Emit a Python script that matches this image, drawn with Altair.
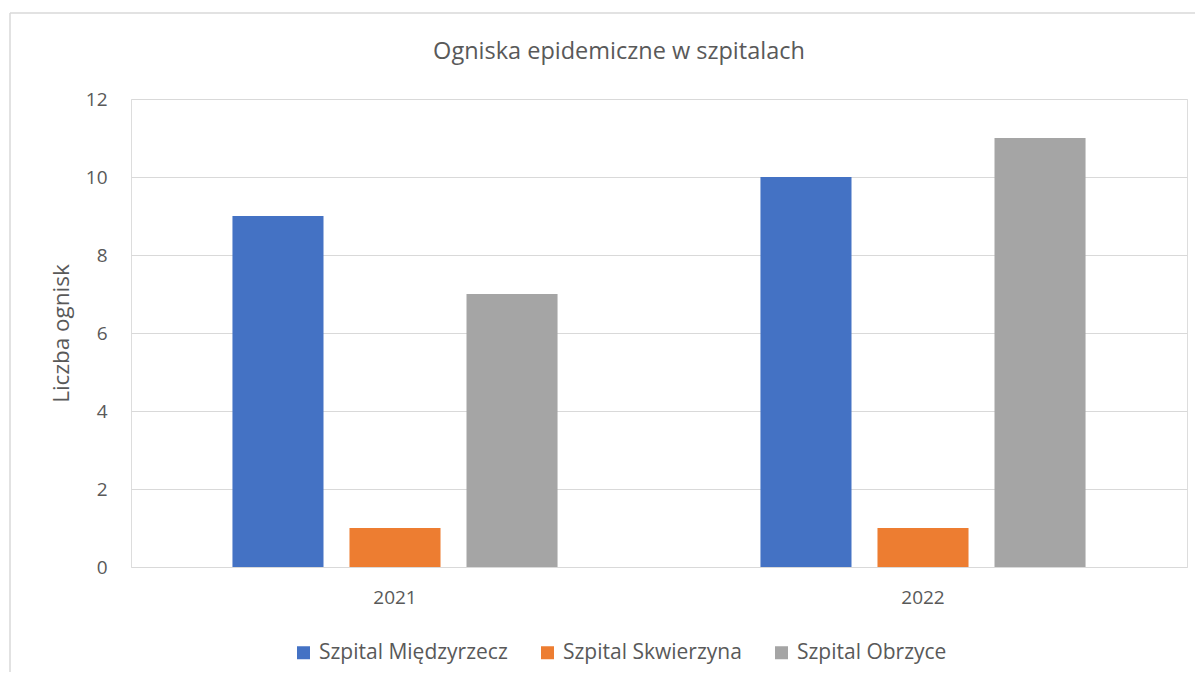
import altair as alt
import pandas as pd

years = ["2021", "2022"]
hospitals = ["Szpital Międzyrzecz", "Szpital Skwierzyna", "Szpital Obrzyce"]
values_2021 = [9, 1, 7]
values_2022 = [10, 1, 11]
colors = ["#4472C4", "#ED7D31", "#A5A5A5"]
y_ticks = [0, 2, 4, 6, 8, 10, 12]

rows = []
for h, v in zip(hospitals, values_2021):
    rows.append({"Rok": "2021", "Szpital": h, "Liczba": v})
for h, v in zip(hospitals, values_2022):
    rows.append({"Rok": "2022", "Szpital": h, "Liczba": v})
df = pd.DataFrame(rows)

FONT = "Open Sans"
TXT = "#595959"

bars = alt.Chart(df).mark_bar().encode(
    x=alt.X("Rok:N", sort=years,
            scale=alt.Scale(paddingInner=0, paddingOuter=0),
            axis=alt.Axis(title=None, labelAngle=0, ticks=False, domain=False,
                          labelFontSize=19, labelColor=TXT, labelFont=FONT,
                          labelPadding=21)),
    xOffset=alt.XOffset("Szpital:N", sort=hospitals,
                        scale=alt.Scale(paddingInner=0.222, paddingOuter=0.867)),
    y=alt.Y("Liczba:Q", scale=alt.Scale(domain=[0, 12], nice=False),
            axis=alt.Axis(title="Liczba ognisk", values=y_ticks, ticks=False,
                          domain=False, grid=True, gridColor="#D9D9D9",
                          labelFontSize=19, labelColor=TXT, labelFont=FONT,
                          labelPadding=24, titleFontSize=22.5, titleColor=TXT,
                          titleFont=FONT, titleFontWeight="normal",
                          titlePadding=12)),
    color=alt.Color("Szpital:N", sort=hospitals,
                    scale=alt.Scale(domain=hospitals, range=colors),
                    legend=alt.Legend(title=None, orient="none", direction="horizontal",
                                      legendX=162, legendY=543, symbolType="square",
                                      symbolSize=169, symbolStrokeWidth=0,
                                      labelFontSize=21, labelColor=TXT, labelFont=FONT,
                                      labelLimit=0, columnPadding=29, labelOffset=5)),
)

title_df = pd.DataFrame({"t": ["Ogniska epidemiczne w szpitalach"]})
title = alt.Chart(title_df).mark_text(fontSize=23.5, color=TXT, font=FONT,
                                      baseline="middle", align="center").encode(
    text="t:N", x=alt.value(488), y=alt.value(-47))

border_top = alt.Chart(title_df).mark_rule(color="#D9D9D9", strokeWidth=1.5).encode(
    x=alt.value(-121), x2=alt.value(1080), y=alt.value(-86))
border_left = alt.Chart(title_df).mark_rule(color="#D9D9D9", strokeWidth=1.5).encode(
    x=alt.value(-121), y=alt.value(-86), y2=alt.value(600))

chart = alt.layer(border_top, border_left, bars, title).properties(
    width=1056, height=468,
    autosize=alt.AutoSizeParams(type="none"),
    padding={"left": 123, "top": 91, "right": 8, "bottom": 105},
).configure_view(stroke=None).configure(background="white")

chart.save("out.html", embed_options={"renderer": "svg", "actions": False})
